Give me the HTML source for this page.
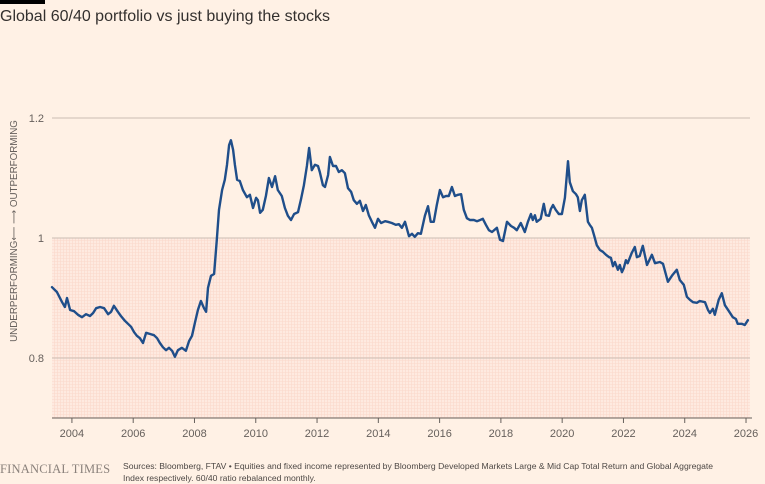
<!DOCTYPE html>
<html><head><meta charset="utf-8"><style>
html,body{margin:0;padding:0;background:#FFF1E5;}
body{width:765px;height:484px;overflow:hidden;position:relative;font-family:"Liberation Sans",sans-serif;}
.bar{position:absolute;left:0;top:0;width:45px;height:4px;background:#000;}
.title{position:absolute;left:0;top:8px;font-size:16px;color:#33302e;}
.ft{position:absolute;left:0;top:462px;font-family:"Liberation Serif",serif;font-size:12.5px;color:#8a817b;letter-spacing:0.2px;}
.src{position:absolute;left:123px;top:461px;font-size:8.6px;line-height:11.5px;color:#4d4845;width:605px;}
</style></head><body>
<div class="bar"></div>
<div class="title">Global 60/40 portfolio vs just buying the stocks</div>
<svg id="chart" width="765" height="484" style="position:absolute;left:0;top:0">
<defs><pattern id="grid" width="3" height="3" patternUnits="userSpaceOnUse"><rect width="3" height="3" fill="#feeae0"/><path d="M0 0.5H3M0.5 0V3" stroke="#fbd9cb" stroke-width="0.6"/></pattern></defs>
</svg>
<div class="ft">FINANCIAL TIMES</div>
<div class="src">Sources: Bloomberg, FTAV • Equities and fixed income represented by Bloomberg Developed Markets Large &amp; Mid Cap Total Return and Global Aggregate Index respectively. 60/40 ratio rebalanced monthly.</div>
<script>
const dates=[2003.35,2003.51,2003.68,2003.77,2003.84,2003.94,2004.07,2004.20,2004.33,2004.46,2004.59,2004.69,2004.79,2004.92,2005.05,2005.18,2005.28,2005.37,2005.50,2005.60,2005.73,2005.83,2005.93,2006.03,2006.12,2006.22,2006.32,2006.42,2006.55,2006.68,2006.78,2006.87,2006.97,2007.07,2007.17,2007.27,2007.36,2007.46,2007.59,2007.72,2007.82,2007.92,2008.02,2008.11,2008.21,2008.31,2008.38,2008.44,2008.54,2008.64,2008.73,2008.80,2008.90,2008.99,2009.06,2009.13,2009.19,2009.26,2009.32,2009.39,2009.48,2009.58,2009.71,2009.81,2009.91,2010.01,2010.07,2010.14,2010.23,2010.33,2010.43,2010.53,2010.63,2010.72,2010.85,2010.95,2011.05,2011.15,2011.25,2011.38,2011.47,2011.57,2011.67,2011.74,2011.83,2011.93,2012.03,2012.09,2012.19,2012.26,2012.36,2012.42,2012.52,2012.62,2012.71,2012.81,2012.91,2013.01,2013.11,2013.20,2013.30,2013.40,2013.50,2013.59,2013.69,2013.79,2013.89,2013.99,2014.09,2014.22,2014.31,2014.44,2014.57,2014.67,2014.77,2014.87,2015.00,2015.10,2015.19,2015.29,2015.39,2015.52,2015.62,2015.71,2015.81,2015.91,2016.01,2016.11,2016.21,2016.30,2016.40,2016.50,2016.60,2016.70,2016.79,2016.89,2016.99,2017.12,2017.22,2017.32,2017.41,2017.51,2017.61,2017.71,2017.87,2017.97,2018.07,2018.20,2018.33,2018.43,2018.52,2018.65,2018.78,2018.88,2018.98,2019.04,2019.11,2019.17,2019.30,2019.40,2019.47,2019.57,2019.63,2019.70,2019.79,2019.89,2019.99,2020.09,2020.19,2020.25,2020.35,2020.45,2020.51,2020.58,2020.64,2020.74,2020.84,2020.90,2020.97,2021.04,2021.13,2021.23,2021.33,2021.43,2021.53,2021.59,2021.66,2021.72,2021.82,2021.88,2021.95,2022.01,2022.08,2022.14,2022.27,2022.37,2022.44,2022.53,2022.63,2022.77,2022.93,2023.03,2023.19,2023.29,2023.45,2023.58,2023.74,2023.84,2023.97,2024.07,2024.17,2024.27,2024.40,2024.49,2024.66,2024.76,2024.82,2024.92,2024.98,2025.11,2025.21,2025.31,2025.44,2025.57,2025.67,2025.73,2025.86,2025.96,2026.06];
const values=[0.918,0.910,0.893,0.885,0.900,0.880,0.878,0.872,0.868,0.873,0.870,0.875,0.883,0.885,0.883,0.873,0.877,0.887,0.877,0.870,0.862,0.857,0.852,0.843,0.837,0.833,0.825,0.842,0.840,0.838,0.833,0.825,0.818,0.813,0.817,0.812,0.802,0.813,0.817,0.812,0.828,0.837,0.860,0.880,0.895,0.883,0.877,0.917,0.937,0.940,0.997,1.047,1.080,1.097,1.122,1.155,1.163,1.147,1.122,1.097,1.095,1.080,1.068,1.072,1.050,1.067,1.063,1.042,1.047,1.070,1.100,1.085,1.103,1.080,1.070,1.050,1.037,1.030,1.040,1.043,1.063,1.088,1.120,1.150,1.113,1.122,1.120,1.110,1.088,1.085,1.105,1.135,1.120,1.120,1.110,1.113,1.108,1.083,1.077,1.063,1.057,1.062,1.045,1.055,1.038,1.027,1.017,1.032,1.025,1.028,1.027,1.025,1.022,1.023,1.017,1.027,1.003,1.007,1.002,1.008,1.007,1.037,1.053,1.027,1.027,1.055,1.080,1.068,1.070,1.070,1.085,1.070,1.072,1.073,1.047,1.033,1.030,1.030,1.028,1.030,1.032,1.022,1.013,1.010,1.017,0.997,0.995,1.027,1.020,1.017,1.013,1.025,1.010,1.027,1.040,1.030,1.038,1.027,1.032,1.057,1.038,1.037,1.048,1.055,1.047,1.040,1.040,1.067,1.128,1.093,1.078,1.073,1.068,1.045,1.063,1.072,1.027,1.022,1.017,1.005,0.988,0.980,0.977,0.972,0.968,0.967,0.953,0.960,0.947,0.955,0.943,0.950,0.963,0.958,0.975,0.985,0.968,0.970,0.987,0.955,0.972,0.958,0.960,0.957,0.927,0.937,0.947,0.930,0.922,0.902,0.897,0.893,0.892,0.895,0.893,0.880,0.875,0.882,0.872,0.897,0.908,0.888,0.878,0.868,0.865,0.857,0.857,0.855,0.863];
const yTicks=[0.8,1,1.2];
const yTickLabels=["0.8","1","1.2"];
const xTicks=[2004,2006,2008,2010,2012,2014,2016,2018,2020,2022,2024,2026];

const X0=52,X1=750,Y0=418,Y1=118;
const xMin=2003.35,xMax=2026.13,yMin=0.7,yMax=1.2;
const xs=d=>X0+(d-xMin)/(xMax-xMin)*(X1-X0);
const ys=v=>Y0-(v-yMin)/(yMax-yMin)*(Y0-Y1);
const svg=document.getElementById('chart');
const NS='http://www.w3.org/2000/svg';
function mk(t,a){const e=document.createElementNS(NS,t);for(const k in a)e.setAttribute(k,a[k]);svg.appendChild(e);return e;}

const shade=mk('rect',{x:X0,y:ys(1),width:X1-X0,height:Y0-ys(1),fill:'url(#grid)'});



yTicks.forEach((t,i)=>{
  const g=mk('line',{x1:X0,x2:X1,y1:ys(t),y2:ys(t),stroke:'#cbbdb4','stroke-width':1});
  
  
  const l=mk('text',{x:44,y:ys(t)+4,'text-anchor':'end','font-size':11,fill:'#66605c','font-family':'Liberation Sans, sans-serif'});
  l.textContent=yTickLabels[i];
  
  
});

const ax=mk('line',{x1:X0,x2:X1+2,y1:Y0,y2:Y0,stroke:'#66605c','stroke-width':1});


xTicks.forEach(t=>{
  const tk=mk('line',{x1:xs(t),x2:xs(t),y1:Y0,y2:Y0+5,stroke:'#66605c'});
  
  
  const l=mk('text',{x:xs(t),y:Y0+19,'text-anchor':'middle','font-size':11,fill:'#66605c','font-family':'Liberation Sans, sans-serif'});
  l.textContent=t;
  
  
});

const yt=mk('text',{x:0,y:0,'text-anchor':'middle','font-size':9.8,fill:'#66605c','font-family':'Liberation Sans, DejaVu Sans, sans-serif',transform:'translate(17,231) rotate(-90)'});
yt.textContent='UNDERPERFORMING\u27F5 \u27F6 OUTPERFORMING';



let d='';
dates.forEach((t,i)=>{d+=(i?'L':'M')+xs(t).toFixed(1)+' '+ys(values[i]).toFixed(1);});
const line=mk('path',{d:d,fill:'none',stroke:'#1f4e8a','stroke-width':2.4,'stroke-linejoin':'round','stroke-linecap':'round'});


</script>
</body></html>
